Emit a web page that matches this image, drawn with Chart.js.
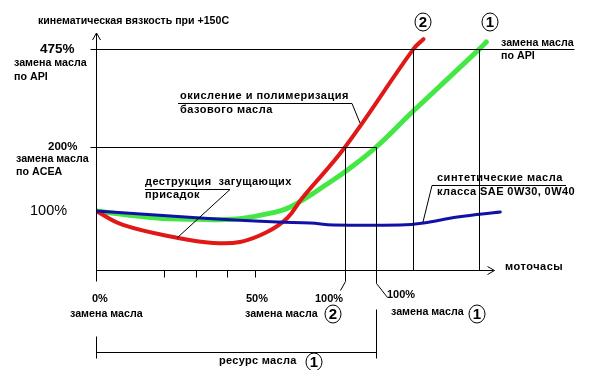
<!DOCTYPE html>
<html>
<head>
<meta charset="utf-8">
<script src="https://cdn.jsdelivr.net/npm/chart.js@4.4.1/dist/chart.umd.min.js"></script>
<style>
    html, body { margin: 0; padding: 0; background: #fff; }
    #wrap { width: 590px; height: 370px; }
</style>
</head>
<body>
<div id="wrap"><canvas id="chartOil" width="590" height="370"></canvas></div>
<script>
// engine hours, % of the 0..50% scale along the bottom axis
const redX = [0, 8.5, 25.9, 36.9, 45.4, 53.9, 60.3, 65, 78.5, 100, 103.2];
const redY = [100, 76.3, 54.2, 45.8, 47.5, 64.4, 88.1, 120.3, 200, 475, 503];
const greenX = [0, 19.2, 31.9, 43.2, 52.7, 61.2, 73.8, 80.1, 88.3, 100, 120.8, 123];
const greenY = [100, 88.1, 85.9, 85.9, 93.8, 106.3, 145.3, 167.2, 200, 301, 475, 495];
const blueX = [0, 32.8, 57.1, 67.5, 74.8, 95.9, 103.2, 113.9, 127.4];
const blueY = [100, 88.1, 81.4, 79.7, 76.3, 76.3, 79.7, 89.8, 98.3];

const levelValues = [100, 200, 475];
const levelLabels = ['100%', '200%', '475%'];
const changeACEA = [78.5, 88.3];   // oil 2, oil 1 reach 200%
const changeAPI = [100, 120.8];    // oil 2, oil 1 reach 475%
const xTickValues = [0, 21.5, 31.5, 41.3, 50];

// schematic viscosity axis: not linear, each band has its own height
const yBreakValues = [0, 100, 200, 475, 520];
const yBreakFracs = [0, 0.249, 0.519, 0.932, 1];

function toFrac(v) {
    for (let i = 1; i < yBreakValues.length; i++) {
        if (v <= yBreakValues[i] || i === yBreakValues.length - 1) {
            let a = yBreakValues[i - 1], b = yBreakValues[i];
            return yBreakFracs[i - 1] + (v - a) / (b - a) * (yBreakFracs[i] - yBreakFracs[i - 1]);
        }
    }
}
function fromFrac(f) {
    for (let i = 1; i < yBreakFracs.length; i++) {
        if (f <= yBreakFracs[i] || i === yBreakFracs.length - 1) {
            let a = yBreakFracs[i - 1], b = yBreakFracs[i];
            return yBreakValues[i - 1] + (f - a) / (b - a) * (yBreakValues[i] - yBreakValues[i - 1]);
        }
    }
}

class PiecewiseScale extends Chart.LinearScale {
    static id = 'piecewise';
    static defaults = {};
    getPixelForValue(value) {
        return this.getPixelForDecimal(toFrac(value));
    }
    getValueForPixel(pixel) {
        return fromFrac(this.getDecimalForPixel(pixel));
    }
}
Chart.register(PiecewiseScale);

function toPoints(xs, ys) {
    return xs.map(function (x, i) { return { x: x, y: ys[i] }; });
}

const FONT = '"Liberation Sans", Arial, sans-serif';

function line(ctx, x1, y1, x2, y2) {
    ctx.beginPath();
    ctx.moveTo(x1, y1);
    ctx.lineTo(x2, y2);
    ctx.stroke();
}
function text(ctx, s, x, y, size, bold, spacing) {
    ctx.font = (bold ? 'bold ' : '') + size + 'px ' + FONT;
    ctx.letterSpacing = (spacing || 0) + 'px';
    ctx.fillText(s, x, y);
    ctx.letterSpacing = '0px';
}
function circled(ctx, s, x, y) {
    ctx.beginPath();
    ctx.ellipse(x, y, 8, 9, 0, 0, Math.PI * 2);
    ctx.stroke();
    ctx.textAlign = 'center';
    text(ctx, s, x, y + 1, 15, true);
    ctx.textAlign = 'left';
}

//==========Annotations===========
const schemePlugin = {
    id: 'scheme',
    afterDraw: function (chart) {
        const ctx = chart.ctx;
        const xs = chart.scales.x, ys = chart.scales.y;
        const px = function (v) { return Math.round(xs.getPixelForValue(v)) + 0.5; };
        const py = function (v) { return Math.round(ys.getPixelForValue(v)) + 0.5; };
        const x0 = px(0), y0 = py(0);

        ctx.save();
        ctx.strokeStyle = '#000';
        ctx.fillStyle = '#000';
        ctx.lineWidth = 1;
        ctx.textBaseline = 'middle';

        // axes
        line(ctx, x0, ys.top, x0, y0 + 11);
        line(ctx, x0 - 4, ys.top + 7, x0, ys.top);
        line(ctx, x0, ys.top, x0 + 4, ys.top + 7);
        line(ctx, x0, y0, px(125), y0);
        line(ctx, px(123.3), y0 - 4, px(125) + 1, y0);
        line(ctx, px(125) + 1, y0, px(123.3), y0 + 4);
        xTickValues.slice(1).forEach(function (v) { line(ctx, px(v), y0, px(v), y0 + 7); });

        // reference levels
        line(ctx, x0 - 6, py(475), px(150) + 2, py(475));
        line(ctx, x0 - 6, py(200), px(changeACEA[1]), py(200));
        line(ctx, px(changeACEA[0]), py(200), px(changeACEA[0]), y0 + 11);
        line(ctx, px(changeACEA[0]), y0 + 11, px(changeACEA[0]) - 5, y0 + 20);
        line(ctx, px(changeACEA[1]), py(200), px(changeACEA[1]), y0 + 13);
        line(ctx, px(changeACEA[1]), y0 + 13, px(changeACEA[1]) + 11, y0 + 27);
        changeAPI.forEach(function (v) { line(ctx, px(v), py(475), px(v), y0); });

        // resource bracket
        line(ctx, x0, y0 + 66, x0, y0 + 88);
        line(ctx, px(changeACEA[1]), y0 + 39, px(changeACEA[1]), y0 + 88);
        line(ctx, x0, y0 + 82, px(changeACEA[1]), y0 + 82);

        // y labels
        text(ctx, 'кинематическая вязкость при +150С', 38, 21, 10.6, true);
        text(ctx, levelLabels[2], 40, py(levelValues[2]), 13.5, true);
        text(ctx, 'замена масла', 14, 63, 10.7, true);
        text(ctx, 'по API', 14, 77, 10.7, true);
        text(ctx, levelLabels[1], 48, py(levelValues[1]) - 1, 11.5, true);
        text(ctx, 'замена масла', 16, 159, 10.7, true);
        text(ctx, 'по ACEA', 16, 172, 10.7, true);
        text(ctx, levelLabels[0], 30, py(levelValues[0]) - 1, 14.5, false);
        text(ctx, 'замена масла', 501, 43, 10.7, true);
        text(ctx, 'по API', 501, 56, 10.7, true);
        circled(ctx, '2', 423, 22);
        circled(ctx, '1', 490, 22);

        // curve notes
        text(ctx, 'окисление и полимеризация', 180, 96, 11, true, 0.5);
        text(ctx, 'базового масла', 180, 110, 11, true, 0.5);
        line(ctx, 178, 103.5, 352, 103.5);
        line(ctx, 352, 103.5, 360, 123);

        text(ctx, 'деструкция  загущающих', 145, 182, 11, true, 0.4);
        text(ctx, 'присадок', 145, 195, 11, true, 0.4);
        line(ctx, 145, 189.5, 230, 189.5);
        line(ctx, 230, 189.5, 177, 238);

        text(ctx, 'синтетические масла', 437, 178, 11, true, 0.5);
        text(ctx, 'класса SAE 0W30, 0W40', 437, 192, 11, true, 0.4);
        line(ctx, 432, 185.5, 566, 185.5);
        line(ctx, 432, 185.5, 423, 222);

        // x labels
        text(ctx, 'моточасы', 505, 267, 11, true, 0.5);
        text(ctx, '0%', 92, 299, 11, true);
        text(ctx, 'замена масла', 70, 314, 10.7, true);
        text(ctx, '50%', 246, 299, 11, true);
        text(ctx, 'замена масла', 245, 314, 10.7, true);
        circled(ctx, '2', 333, 314);
        text(ctx, '100%', 315, 299, 11, true);
        text(ctx, '100%', 387, 295, 11, true);
        text(ctx, 'замена масла', 391, 312, 10.7, true);
        circled(ctx, '1', 477, 314);
        text(ctx, 'ресурс масла', 219, 361, 11, true, 0.3);
        circled(ctx, '1', 314, 362);

        ctx.restore();
    }
};

const ctx = document.getElementById('chartOil');
new Chart(ctx, {
    type: 'line',
    data: {
        datasets: [{
            label: 'синтетические масла',
            data: toPoints(blueX, blueY),
            borderColor: '#1111a8',
            borderWidth: 3
        }, {
            label: 'масло 2',
            data: toPoints(redX, redY),
            borderColor: '#e01818',
            borderWidth: 4
        }, {
            label: 'масло 1',
            data: toPoints(greenX, greenY),
            borderColor: '#44e844',
            borderWidth: 5
        }]
    },
    options: {
        responsive: false,
        animation: false,
        layout: { padding: { left: 96, right: 18, top: 33, bottom: 100 } },
        elements: {
            point: { radius: 0 },
            line: { tension: 0.4, borderCapStyle: 'round', fill: false }
        },
        plugins: { legend: { display: false }, tooltip: { enabled: false } },
        scales: {
            x: { type: 'linear', min: 0, max: 150, display: false },
            y: { type: 'piecewise', min: 0, max: 520, display: false }
        }
    },
    plugins: [schemePlugin]
});
</script>
</body>
</html>
